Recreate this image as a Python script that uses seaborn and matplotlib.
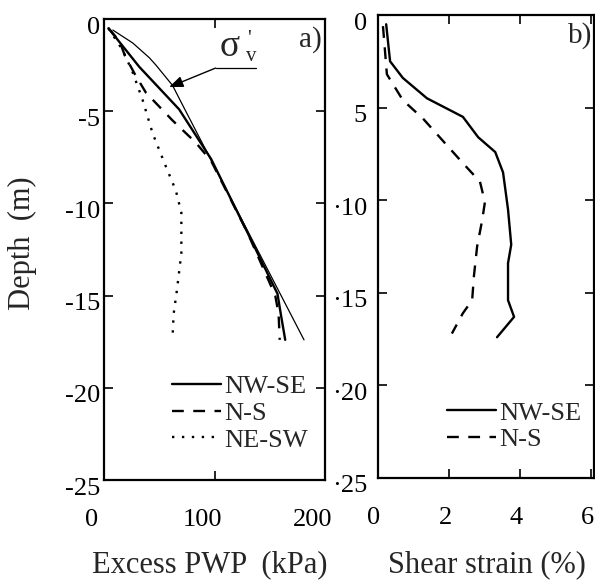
import numpy as np
import pandas as pd
import matplotlib
matplotlib.use("Agg")
import matplotlib.pyplot as plt
from matplotlib.transforms import ScaledTranslation
import seaborn as sns

# ---------------- data ----------------
# Panel a) excess pore water pressure (kPa) vs depth (m)
pwp_nwse_x = [4, 32, 68, 97, 130, 157, 160, 164]
pwp_nwse_y = [-0.5, -2.6, -4.9, -7.6, -11.6, -14.9, -16.0, -17.4]
pwp_ns_x = [4, 14, 19, 28, 38, 62, 83, 97, 130, 155, 158, 159]
pwp_ns_y = [-0.5, -1.2, -2.0, -3.0, -4.0, -5.5, -6.7, -7.7, -11.6, -15.0, -16.0, -17.4]
pwp_nesw_x = [4, 17, 26, 35, 44, 56, 65, 70, 70, 66, 63, 62]
pwp_nesw_y = [-0.5, -1.7, -2.9, -4.4, -6.2, -8.0, -9.3, -10.5, -12.7, -14.7, -16.0, -17.3]
sigv_x = [8, 26, 41, 47, 62, 74, 181]
sigv_y = [-0.6, -1.3, -2.1, -2.5, -3.6, -5.0, -17.4]

# Panel b) shear strain (%) vs depth (m)
ss_nwse_x = [0.23, 0.34, 0.70, 1.38, 2.39, 2.82, 3.30, 3.52, 3.66, 3.75, 3.66, 3.66, 3.83, 3.35]
ss_nwse_y = [-0.5, -2.5, -3.4, -4.5, -5.5, -6.6, -7.4, -8.5, -10.5, -12.4, -13.4, -15.4, -16.3, -17.4]
ss_ns_x = [0.14, 0.25, 0.70, 1.27, 1.83, 2.39, 2.87, 3.01, 2.93, 2.79, 2.70, 2.65, 2.39, 2.08]
ss_ns_y = [-0.6, -3.2, -4.6, -5.6, -6.8, -8.0, -9.0, -10.1, -11.1, -12.5, -14.1, -15.4, -16.1, -17.2]

xticks_a = [0, 100, 200]
xticks_b = [0, 2, 4, 6]
yticks = [0, -5, -10, -15, -20, -25]
yticklabels_a = ["0", "-5", "-10", "-15", "-20", "-25"]
yticklabels_b = ["0", "5", "\u00b710", "\u00b715", "\u00b720", "\u00b725"]

# ---------------- style ----------------
sns.set_theme(style="ticks")
plt.rcParams["font.family"] = ["Liberation Serif", "DejaVu Serif"]
plt.rcParams["axes.unicode_minus"] = False

fig = plt.figure(figsize=(5.95, 5.86), dpi=100)
W, H = 595.0, 586.0
axa = fig.add_axes([104 / W, 1 - 480 / H, (325 - 104) / W, (480 - 19) / H])
axb = fig.add_axes([378 / W, 1 - 478 / H, (594 - 378) / W, (478 - 15) / H])

LW = 1.7
dash = (0, (5, 4))
dot = (0, (1, 3.2))

def seg(ax, x, y, **kw):
    df = pd.DataFrame({"x": x, "y": y})
    sns.lineplot(data=df, x="x", y="y", sort=False, estimator=None, ax=ax, **kw)

# panel a
seg(axa, sigv_x, sigv_y, color="black", lw=0.9)
seg(axa, pwp_nwse_x, pwp_nwse_y, color="black", lw=LW, label="NW-SE")
seg(axa, pwp_ns_x, pwp_ns_y, color="black", lw=LW, linestyle=dash, label="N-S")
seg(axa, pwp_nesw_x, pwp_nesw_y, color="black", lw=LW, linestyle=dot, label="NE-SW")

# panel b
seg(axb, ss_nwse_x, ss_nwse_y, color="black", lw=LW, label="NW-SE")
seg(axb, ss_ns_x, ss_ns_y, color="black", lw=LW, linestyle=dash, label="N-S")

for ax, xl, xt in [(axa, (0, 197), xticks_a), (axb, (0, 6.08), xticks_b)]:
    ax.set_xlim(*xl)
    ax.set_ylim(-25, 0)
    ax.set_xticks(xt)
    ax.set_xticklabels([str(v) for v in xt])
    ax.set_yticks(yticks)
    ax.set_xlabel("")
    ax.set_ylabel("")
    for s in ax.spines.values():
        s.set_visible(True)
        s.set_linewidth(1.6)
        s.set_color("black")
    ax.tick_params(direction="in", top=True, right=True, length=6.5, width=1.2,
                   colors="black", labelsize=19)
    ax.tick_params(axis="x", pad=21)

axa.set_yticklabels(yticklabels_a)
axb.set_yticklabels(yticklabels_b)
axa.tick_params(axis="y", pad=3)
axb.tick_params(axis="y", pad=8)

# shift tick labels like in the reference
for ax, dx in [(axa, -12), (axb, -4)]:
    off = ScaledTranslation(dx / 100, 0, fig.dpi_scale_trans)
    for lab in ax.get_xticklabels():
        lab.set_transform(lab.get_transform() + off)
    offy = ScaledTranslation(0, -6 / 100, fig.dpi_scale_trans)
    for lab in ax.get_yticklabels():
        lab.set_transform(lab.get_transform() + offy)

# legends
for ax, anchor in [(axa, (0.308, 0.228)), (axb, (0.319, 0.166))]:
    lines = [l for l in ax.get_lines() if not l.get_label().startswith("_")]
    leg = ax.legend(handles=lines, labels=[l.get_label() for l in lines],
                    loc="upper left", bbox_to_anchor=anchor, frameon=False,
                    fontsize=19, handlelength=1.85, handletextpad=0.12,
                    labelspacing=0.12, borderpad=0, borderaxespad=0)

# annotation sigma'_v
axa.plot([101, 137.5], [-2.66, -2.66], color="black", lw=0.9)
axa.annotate("", xy=(59, -3.69), xytext=(101, -2.66),
             arrowprops=dict(arrowstyle="-|>,head_length=0.7,head_width=0.28",
                             color="black", lw=1.0, shrinkA=0, shrinkB=0))
axa.text(114, -1.5, "\u03c3", fontsize=27, ha="center", va="center")
axa.text(131, -1.1, "'", fontsize=15, ha="center", va="center")
axa.text(133, -2.05, "v", fontsize=15, ha="center", va="center")
axa.text(0.985, 0.955, "a)", transform=axa.transAxes, fontsize=21, ha="right", va="center")
axb.text(0.99, 0.955, "b)", transform=axb.transAxes, fontsize=21, ha="right", va="center")

# axis labels
fig.text(22 / W, 1 - 243 / H, "Depth  (m)", rotation=90, fontsize=22,
         ha="center", va="center")
fig.text(210 / W, 1 - 565 / H, "Excess PWP  (kPa)", fontsize=22, ha="center", va="center")
fig.text(487 / W, 1 - 565 / H, "Shear strain (%)", fontsize=22, ha="center", va="center")

fig.savefig("out.png", dpi=100, facecolor="white")
